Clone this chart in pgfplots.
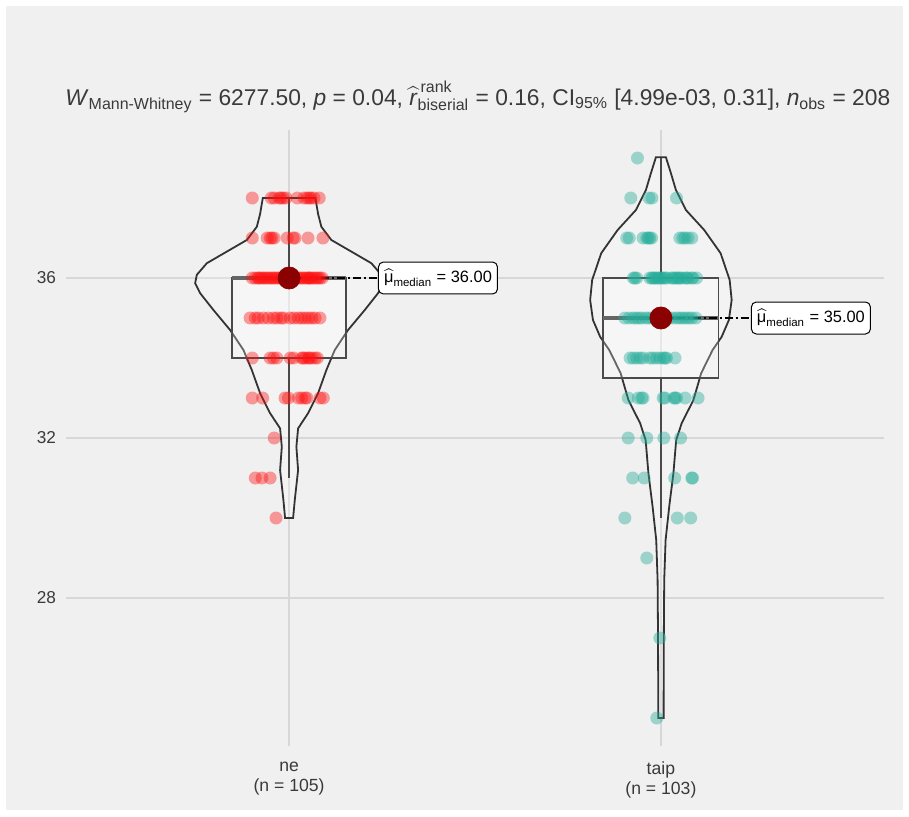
\documentclass[border=0pt]{standalone}
\usepackage{amsmath}
\usepackage{fontspec}
\setmainfont{Liberation Sans}
\usepackage{pgfplots}
\pgfplotsset{compat=1.18}
\definecolor{bgc}{HTML}{F0F0F0}
\definecolor{gridc}{HTML}{D7D7D7}
\definecolor{redc}{HTML}{FF1010}
\definecolor{tealc}{HTML}{26AD9A}
\definecolor{linec}{HTML}{333333}
\definecolor{boxc}{HTML}{4A4A4A}
\definecolor{medc}{HTML}{8B0000}
\definecolor{txtc}{HTML}{3A3A3A}
\begin{document}
\begin{tikzpicture}
\fill[white] (0pt,0pt) rectangle (454.5pt,408pt);
\fill[bgc] (3pt,3pt) rectangle (451.5pt,405pt);
\begin{axis}[
  at={(33pt,35pt)}, anchor=south west,
  scale only axis, width=409pt, height=308pt,
  xmin=0.4, xmax=2.6, ymin=24.3, ymax=39.7,
  clip=false,
  axis line style={draw=none},
  tick style={draw=none},
  major tick length=0pt,
  xtick={1,2},
  xticklabels={{ne\\(n = 105)},{taip\\(n = 103)}},
  ytick={28,32,36},
  grid=major,
  major grid style={color=gridc, line width=0.8pt},
  /pgf/number format/assume math mode=true,
  yticklabel style={font=\fontsize{8.6}{10}\selectfont, text=txtc, xshift=-1.5pt},
  xticklabel style={font=\fontsize{8.8}{10}\selectfont, text=txtc, align=center, yshift=-4.5pt},
]
% jittered points: ne
\addplot[only marks, mark=*, mark size=3.25pt, mark options={draw opacity=0, fill=redc, fill opacity=0.4}] coordinates {
(0.901,38) (0.952,38) (0.960,38) (0.973,38) (0.978,38) (0.984,38) (0.992,38) (1.022,38) (1.040,38) (1.048,38) (1.054,38) (1.059,38) (1.067,38) (1.081,38)
(0.901,37) (0.941,37) (0.949,37) (0.954,37) (0.960,37) (0.995,37) (1.011,37) (1.016,37) (1.051,37) (1.091,37)
(0.901,36) (0.909,36) (0.917,36) (0.925,36) (0.930,36) (0.935,36) (0.941,36) (0.946,36) (0.952,36) (0.957,36) (0.962,36) (0.968,36) (0.973,36) (0.978,36) (0.987,36) (0.995,36) (1.000,36) (1.008,36) (1.016,36) (1.024,36) (1.030,36) (1.035,36) (1.040,36) (1.046,36) (1.051,36) (1.056,36) (1.062,36) (1.067,36) (1.073,36) (1.078,36) (1.083,36) (1.089,36) (0.919,36) (1.054,36)
(0.895,35) (0.909,35) (0.917,35) (0.931,35) (0.944,35) (0.958,35) (0.967,35) (0.985,35) (1.003,35) (1.025,35) (1.034,35) (1.043,35) (1.052,35) (1.061,35) (1.070,35) (1.083,35) (0.978,35) (1.013,35)
(0.901,34) (0.949,34) (0.958,34) (0.967,34) (1.003,34) (1.012,34) (1.034,34) (1.043,34) (1.052,34) (1.061,34) (1.070,34) (1.076,34) (1.038,34) (1.054,34)
(0.901,33) (0.929,33) (0.989,33) (0.998,33) (1.025,33) (1.034,33) (1.043,33) (1.048,33) (1.083,33) (1.092,33)
(0.960,32)
(0.909,31) (0.927,31) (0.949,31)
(0.965,30)
};
% jittered points: taip
\addplot[only marks, mark=*, mark size=3.25pt, mark options={draw opacity=0, fill=tealc, fill opacity=0.42}] coordinates {
(1.937,39)
(1.919,38) (1.968,38) (1.976,38) (2.042,38)
(1.908,37) (1.915,37) (1.952,37) (1.966,37) (1.970,37) (1.975,37) (2.051,37) (2.065,37) (2.073,37) (2.083,37) (1.962,37) (2.059,37)
(1.926,36) (1.935,36) (1.970,36) (1.979,36) (1.988,36) (1.993,36) (1.997,36) (2.006,36) (2.011,36) (2.029,36) (2.038,36) (2.047,36) (2.056,36) (2.065,36) (2.073,36) (2.083,36) (2.096,36) (1.930,36) (1.976,36) (1.984,36) (2.001,36) (2.016,36) (2.032,36) (2.043,36) (2.051,36) (2.070,36) (2.086,36)
(1.903,35) (1.914,35) (1.925,35) (1.933,35) (1.941,35) (1.949,35) (1.960,35) (1.968,35) (1.978,35) (1.989,35) (2.011,35) (2.022,35) (2.032,35) (2.043,35) (2.051,35) (2.059,35) (2.067,35) (2.075,35) (2.083,35) (2.094,35)
(1.917,34) (1.926,34) (1.944,34) (1.952,34) (1.970,34) (1.988,34) (1.997,34) (2.006,34) (2.011,34) (2.015,34) (2.038,34) (1.935,34) (1.978,34)
(1.912,33) (1.939,33) (1.948,33) (1.952,33) (2.006,33) (2.011,33) (2.038,33) (2.042,33) (2.065,33) (2.100,33) (2.035,33)
(1.912,32) (1.962,32) (2.008,32) (2.053,32)
(1.924,31) (1.955,31) (2.037,31) (2.083,31) (2.085,31)
(1.903,30) (2.044,30) (2.080,30)
(1.962,29)
(1.997,27)
(1.989,25)
};
% violins
\addplot[draw=linec, line width=0.9pt, fill=white, fill opacity=0.2] coordinates {
(0.9293,38) (1.0707,38) (1.0780,37.6) (1.0868,37.28) (1.1137,36.95) (1.1675,36.66) (1.2212,36.37) (1.2481,36.08) (1.2527,35.87) (1.2392,35.62) (1.2035,35.2) (1.1586,34.7) (1.1228,34.2) (1.1003,33.7) (1.0780,33.12) (1.0511,32.62) (1.0242,32.24) (1.0196,31.78) (1.0242,31.2) (1.0153,30.45) (1.0108,30.0)
(0.9892,30.0) (0.9847,30.45) (0.9758,31.2) (0.9804,31.78) (0.9758,32.24) (0.9489,32.62) (0.9220,33.12) (0.8997,33.7) (0.8772,34.2) (0.8414,34.7) (0.7965,35.2) (0.7608,35.62) (0.7473,35.87) (0.7519,36.08) (0.7788,36.37) (0.8325,36.66) (0.8863,36.95) (0.9132,37.28) (0.9220,37.6)
} -- cycle;
\addplot[draw=linec, line width=0.9pt, fill=white, fill opacity=0.2] coordinates {
(1.9866,39.02) (2.0134,39.02) (2.0269,38.62) (2.0403,38.2) (2.0672,37.7) (2.1164,37.2) (2.1605,36.62) (2.1849,35.95) (2.1903,35.45) (2.1828,34.95) (2.1634,34.53) (2.1390,34.2) (2.1083,33.62) (2.0874,32.95) (2.0559,32.37) (2.0411,31.95) (2.0336,31.12) (2.0223,30.28) (2.0126,29.45) (2.0089,28.45) (2.0081,27.45) (2.0075,26.45) (2.0073,25.45) (2.0073,25.0)
(1.9927,25.0) (1.9927,25.45) (1.9925,26.45) (1.9919,27.45) (1.9911,28.45) (1.9874,29.45) (1.9777,30.28) (1.9664,31.12) (1.9589,31.95) (1.9441,32.37) (1.9126,32.95) (1.8917,33.62) (1.8610,34.2) (1.8366,34.53) (1.8172,34.95) (1.8097,35.45) (1.8151,35.95) (1.8395,36.62) (1.8836,37.2) (1.9328,37.7) (1.9597,38.2) (1.9731,38.62)
} -- cycle;
% boxes
\addplot[draw=boxc, line width=0.9pt, fill=white, fill opacity=0.25] coordinates {(0.847,34) (1.153,34) (1.153,36) (0.847,36)} -- cycle;
\addplot[draw=boxc, line width=0.9pt] coordinates {(1,36) (1,38)};
\addplot[draw=boxc, line width=0.9pt] coordinates {(1,34) (1,31)};
\addplot[draw=boxc!85!white, line width=2pt] coordinates {(0.847,36) (1.153,36)};
\addplot[draw=boxc, line width=0.9pt, fill=white, fill opacity=0.25] coordinates {(1.845,33.5) (2.155,33.5) (2.155,36) (1.845,36)} -- cycle;
\addplot[draw=boxc, line width=0.9pt] coordinates {(2,36) (2,39)};
\addplot[draw=boxc, line width=0.9pt] coordinates {(2,33.5) (2,30)};
\addplot[draw=boxc!85!white, line width=2pt] coordinates {(1.845,35) (2.155,35)};
% median connectors
\addplot[draw=black, line width=0.7pt, dash pattern=on 4pt off 1.5pt on 1pt off 1.5pt] coordinates {(1,36) (1.239,36)};
\addplot[draw=black, line width=0.7pt, dash pattern=on 4pt off 1.5pt on 1pt off 1.5pt] coordinates {(2,35) (2.242,35)};
% medians
\addplot[only marks, mark=*, mark size=5.5pt, mark options={draw=medc, fill=medc}] coordinates {(1,36) (2,35)};
\node[draw=black, line width=0.5pt, fill=white, rounded corners=2.5pt, anchor=west, inner xsep=2.8pt, inner ysep=3.6pt, font=\fontsize{8.2}{9.5}\selectfont] at (axis cs:1.239,36) {$\widehat{\text{μ}}_{\text{median}}$ = 36.00};
\node[draw=black, line width=0.5pt, fill=white, rounded corners=2.5pt, anchor=west, inner xsep=2.8pt, inner ysep=3.6pt, font=\fontsize{8.2}{9.5}\selectfont] at (axis cs:2.242,35) {$\widehat{\text{μ}}_{\text{median}}$ = 35.00};
\end{axis}
\node[anchor=west, inner sep=0pt, text=txtc, font=\fontsize{11.4}{13}\selectfont] at (32.5pt,359.5pt) {\textit{W}$_{\text{Mann-Whitney}}$ = 6277.50, \textit{p} = 0.04, $\widehat{\text{\textit{r}}}^{\,\text{rank}}_{\text{biserial}}$ = 0.16, CI$_{\text{95\%}}$ [4.99e-03, 0.31], \textit{n}$_{\text{obs}}$ = 208};
\end{tikzpicture}
\end{document}
